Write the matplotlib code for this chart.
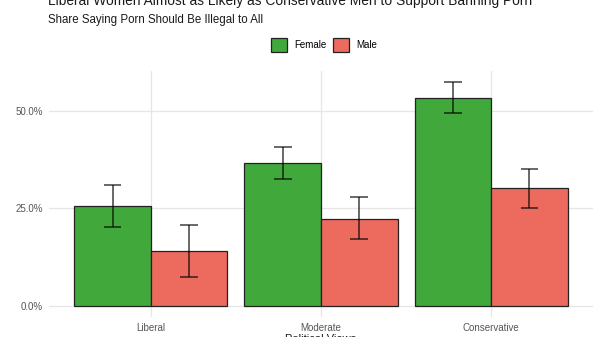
import matplotlib
matplotlib.use("Agg")
import matplotlib.pyplot as plt
import numpy as np
from matplotlib.patches import Patch

plt.rcParams['font.family'] = ['Liberation Sans', 'DejaVu Sans']

categories = ["Liberal", "Moderate", "Conservative"]
groups = ["Female", "Male"]
female = [25.6, 36.6, 53.3]
female_lo = [20.3, 32.5, 49.4]
female_hi = [31.0, 40.7, 57.4]
male = [14.1, 22.4, 30.2]
male_lo = [7.4, 17.1, 25.1]
male_hi = [20.7, 27.9, 35.2]
colors = {"Female": "#41A83C", "Male": "#EC6A5E"}
yticks = [0, 25, 50]
ytick_labels = ["0.0%", "25.0%", "50.0%"]

W, H = 600, 337
fig = plt.figure(figsize=(W / 100, H / 100), dpi=100)
ax = fig.add_axes([48.7 / W, 1 - 317 / H, (593.3 - 48.7) / W, (317 - 71) / H])

x = np.arange(1, len(categories) + 1)
bw = 0.45
series = [(female, female_lo, female_hi, "Female", -bw / 2),
          (male, male_lo, male_hi, "Male", bw / 2)]
for vals, lo, hi, name, off in series:
    ax.bar(x + off, vals, width=bw, color=colors[name], edgecolor="#222222",
           linewidth=0.9, zorder=3)
    for xi, l, h in zip(x + off, lo, hi):
        ax.vlines(xi, l, h, color="black", alpha=0.75, linewidth=1.1, zorder=4)
        ax.hlines([l, h], xi - 0.052, xi + 0.052, color="black", alpha=0.75,
                  linewidth=1.1, zorder=4)

ax.set_xlim(0.4, 3.6)
top = max(female_hi + male_hi)
ax.set_ylim(-0.05 * top, top * 1.05)
ax.set_xticks(x)
ax.set_xticklabels(categories)
ax.set_yticks(yticks)
ax.set_yticklabels(ytick_labels)
ax.tick_params(axis="both", length=0, labelsize=7, labelcolor="#555555", pad=4)
ax.grid(True, color="#E6E6E6", linewidth=0.9, zorder=0)
for s in ax.spines.values():
    s.set_visible(False)
ax.set_facecolor("white")

fig.text(48 / W, 1 - 5.5 / H, "Liberal Women Almost as Likely as Conservative Men to Support Banning Porn",
         fontsize=9.9, color="#1a1a1a", va="baseline", ha="left")
fig.text(48 / W, 1 - 22.5 / H, "Share Saying Porn Should Be Illegal to All",
         fontsize=8.3, color="#1a1a1a", va="baseline", ha="left")
fig.text(321 / W, 1 - 334 / H, "Political Views", fontsize=8, color="#1a1a1a",
         va="top", ha="center")

handles = [Patch(facecolor=colors[g], edgecolor="#222222", linewidth=0.9, label=g) for g in groups]
fig.legend(handles=handles, loc="center", bbox_to_anchor=(324 / W, 1 - 45 / H), ncol=2,
           frameon=False, fontsize=7, handlelength=1.65, handleheight=1.75,
           handletextpad=0.75, columnspacing=0.65, borderpad=0, borderaxespad=0)

fig.savefig("out.png", dpi=100)
